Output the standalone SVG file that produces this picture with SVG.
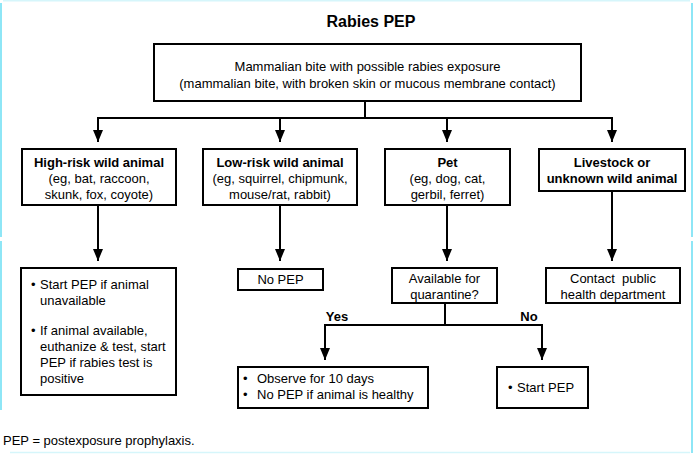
<svg xmlns="http://www.w3.org/2000/svg" width="693" height="454" viewBox="0 0 693 454">
<defs>
<marker id="ah" markerUnits="userSpaceOnUse" markerWidth="12" markerHeight="10" viewBox="0 0 12 10" refX="12" refY="5" orient="auto">
<path d="M0,0 L12,5 L0,10 Z" fill="#000"/>
</marker>
<style>
text{font-family:"Liberation Sans",Arial,sans-serif;font-size:13px;fill:#000}
.b{font-weight:bold}
.c{text-anchor:middle}
.box{fill:#fff;stroke:#000;stroke-width:2}
.ln{fill:none;stroke:#000;stroke-width:2}
.arr{fill:none;stroke:#000;stroke-width:2;marker-end:url(#ah)}
.edge{fill:none;stroke:#8ee6f6;stroke-width:2}
.edgef{fill:none;stroke:#d6f6fb;stroke-width:1.5}
</style>
</defs>
<rect x="0" y="0" width="693" height="454" fill="#fff"/>
<g id="frame">
<line class="edgef" x1="3" y1="0.75" x2="690" y2="0.75"/>
<line class="edgef" x1="10" y1="452.5" x2="690" y2="452.5"/>
<line class="edge" x1="1" y1="3" x2="1" y2="237"/>
<line class="edge" x1="1" y1="241" x2="1" y2="410"/>
<line class="edge" x1="692" y1="3" x2="692" y2="237"/>
<line class="edge" x1="692" y1="241" x2="692" y2="453"/>
</g>
<text class="b c" x="371" y="27" style="font-size:16px">Rabies PEP</text>
<g id="connectors">
<polyline class="ln" points="365,101 365,118"/>
<line class="ln" x1="97" y1="118" x2="613" y2="118"/>
<line class="arr" x1="98" y1="117" x2="98" y2="142"/>
<line class="arr" x1="280" y1="118" x2="280" y2="142"/>
<line class="arr" x1="447" y1="118" x2="447" y2="142"/>
<line class="arr" x1="612" y1="117" x2="612" y2="142"/>
<line class="arr" x1="98" y1="205" x2="98" y2="261"/>
<line class="arr" x1="280" y1="205" x2="280" y2="261"/>
<line class="arr" x1="447" y1="205" x2="447" y2="261"/>
<line class="arr" x1="612" y1="191" x2="612" y2="261"/>
<line class="ln" x1="445" y1="303" x2="445" y2="325"/>
<polyline class="arr" points="445,325 325,325 325,360"/>
<polyline class="arr" points="445,325 542,325 542,360"/>
<text class="b c" x="337" y="321">Yes</text>
<text class="b c" x="529" y="321">No</text>
</g>
<g id="n-root">
<rect class="box" x="154" y="44" width="427" height="57"/>
<text class="c" x="367.5" y="71">Mammalian bite with possible rabies exposure</text>
<text class="c" x="367.5" y="88">(mammalian bite, with broken skin or mucous membrane contact)</text>
</g>
<g id="n-high">
<rect class="box" x="22" y="149" width="154" height="56"/>
<text class="b c" x="99" y="167">High-risk wild animal</text>
<text class="c" x="99" y="183">(eg, bat, raccoon,</text>
<text class="c" x="99" y="199">skunk, fox, coyote)</text>
</g>
<g id="n-low">
<rect class="box" x="203" y="149" width="154" height="56"/>
<text class="b c" x="280" y="167">Low-risk wild animal</text>
<text class="c" x="280" y="183">(eg, squirrel, chipmunk,</text>
<text class="c" x="280" y="199">mouse/rat, rabbit)</text>
</g>
<g id="n-pet">
<rect class="box" x="385" y="149" width="125" height="56"/>
<text class="b c" x="447.5" y="167">Pet</text>
<text class="c" x="447.5" y="183">(eg, dog, cat,</text>
<text class="c" x="447.5" y="199">gerbil, ferret)</text>
</g>
<g id="n-livestock">
<rect class="box" x="539" y="149" width="146" height="42"/>
<text class="b c" x="612" y="167">Livestock or</text>
<text class="b c" x="612" y="183">unknown wild animal</text>
</g>
<g id="n-highaction">
<rect class="box" x="21" y="268" width="155" height="127"/>
<text x="31" y="289">•<tspan x="40">Start PEP if animal</tspan></text>
<text x="40" y="305">unavailable</text>
<text x="31" y="335">•<tspan x="40">If animal available,</tspan></text>
<text x="40" y="351">euthanize &amp; test, start</text>
<text x="40" y="367">PEP if rabies test is</text>
<text x="40" y="383">positive</text>
</g>
<g id="n-nopep">
<rect class="box" x="238" y="269" width="85" height="21"/>
<text class="c" x="280.5" y="284">No PEP</text>
</g>
<g id="n-quarantine">
<rect class="box" x="392" y="268" width="105" height="35"/>
<text class="c" x="444.5" y="283">Available for</text>
<text class="c" x="444.5" y="299">quarantine?</text>
</g>
<g id="n-contact">
<rect class="box" x="546" y="268" width="134" height="35"/>
<text class="c" x="613" y="283" xml:space="preserve">Contact  public</text>
<text class="c" x="613" y="299">health department</text>
</g>
<g id="n-observe">
<rect class="box" x="238" y="367" width="190" height="41"/>
<text x="243" y="383">•<tspan x="257">Observe for 10 days</tspan></text>
<text x="243" y="399">•<tspan x="257">No PEP if animal is healthy</tspan></text>
</g>
<g id="n-startpep">
<rect class="box" x="497" y="367" width="91" height="41"/>
<text x="508" y="392">•<tspan x="517">Start PEP</tspan></text>
</g>
<text x="3" y="445">PEP = postexposure prophylaxis.</text>
</svg>
